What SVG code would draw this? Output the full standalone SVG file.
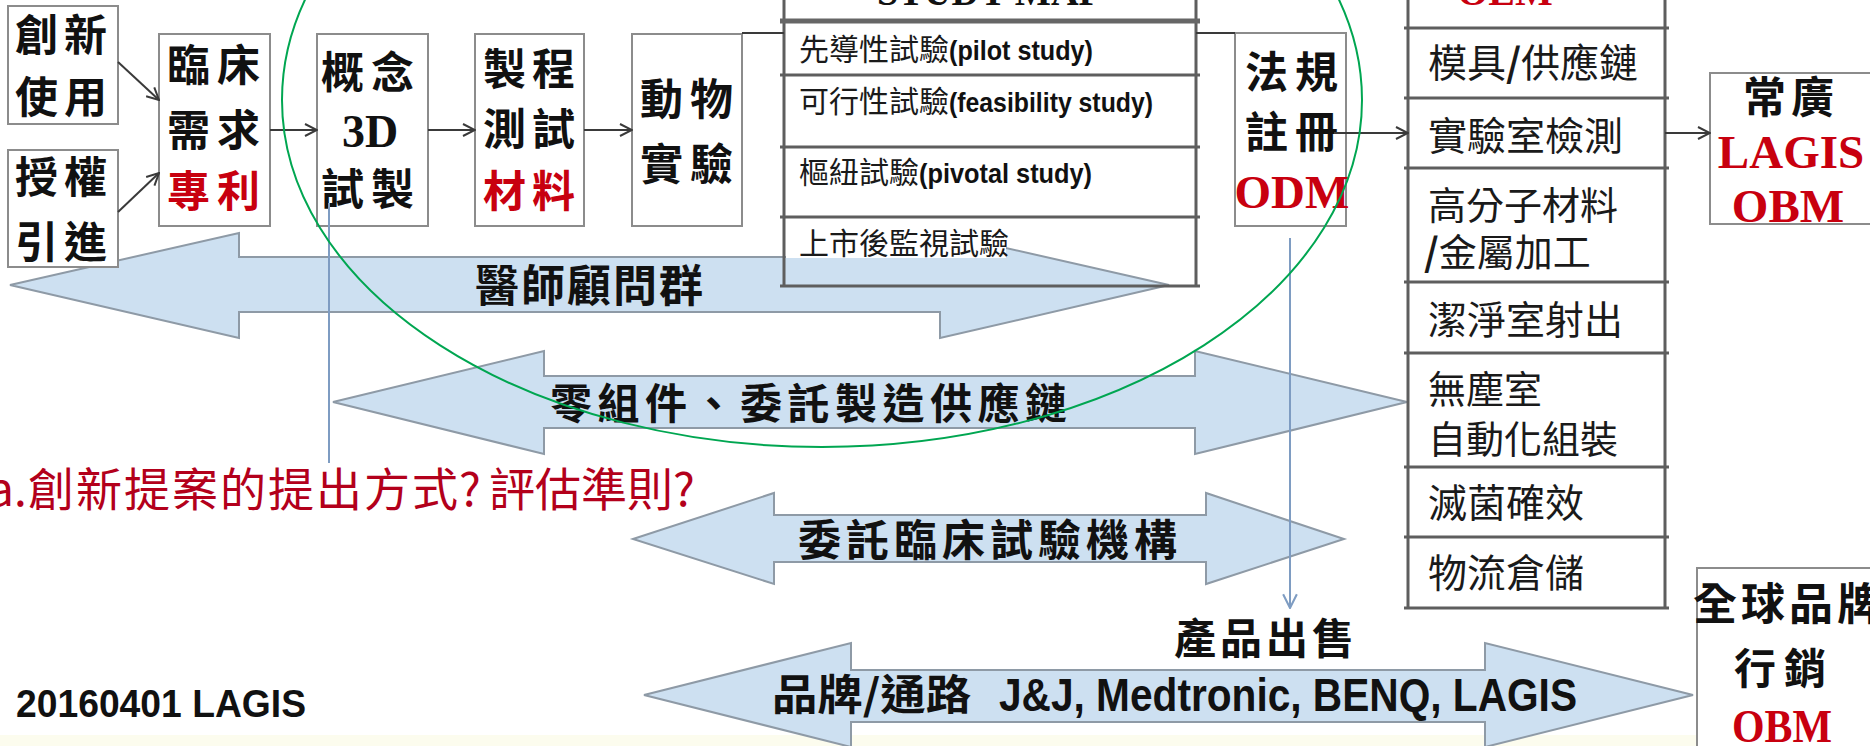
<svg xmlns="http://www.w3.org/2000/svg" width="1870" height="746" viewBox="0 0 1870 746">
<defs>
<style>
.box{fill:#fff;stroke:#8c8c8c;stroke-width:2}
.cjkb{font-family:"Noto Sans CJK TC","Noto Sans CJK SC",sans-serif;font-weight:700;fill:#111}
.cjk{font-family:"Noto Sans CJK TC","Noto Sans CJK SC",sans-serif;font-weight:400;fill:#1a1a1a}
.red{fill:#c8000f}
.q{fill:#b3001b}
.ser{font-family:"Liberation Serif",serif;font-weight:700}
.lat{font-family:"Liberation Sans",sans-serif;font-weight:700;fill:#111}
.barrow{fill:#cde0f1;stroke:#8e9aa6;stroke-width:2}
.grid{stroke:#5e5e5e;stroke-width:3;fill:none}
.conn{stroke:#3a3a3a;stroke-width:2;fill:none}
.vconn{stroke:#7e9cc2;stroke-width:2;fill:none}
</style>
<marker id="ah" viewBox="0 0 14 14" refX="13" refY="7" markerWidth="14" markerHeight="14" markerUnits="userSpaceOnUse" orient="auto"><path d="M1,1 L13,7 L1,13" fill="none" stroke="#3a3a3a" stroke-width="2"/></marker>
<marker id="ahb" viewBox="0 0 14 14" refX="13" refY="7" markerWidth="16" markerHeight="16" markerUnits="userSpaceOnUse" orient="auto"><path d="M1,1 L13,7 L1,13" fill="none" stroke="#7e9cc2" stroke-width="1.8"/></marker>
</defs>
<rect x="0" y="0" width="1870" height="746" fill="#fff"/>
<rect x="0" y="735" width="1870" height="11" fill="#fcfcee"/>

<g id="arrow-doctors">
<polygon class="barrow" points="10,285 239,233 239,257 940,257 940,233 1169,285 940,338 940,312 239,312 239,338"/>
<text class="cjkb" font-size="44" y="302" x="475 521 567 613 659">醫師顧問群</text>
</g>

<g id="arrow-parts">
<polygon class="barrow" points="333,402 544,351 544,376 1195,376 1195,351 1407,402 1195,454 1195,428 544,428 544,454"/>
<text class="cjkb" font-size="42" y="419" x="550 597.5 645 692.5 740 787.5 835 882.5 930 977.5 1025">零組件、委託製造供應鏈</text>
</g>

<g id="arrow-cro">
<polygon class="barrow" points="633,539 774,493 774,515 1206,515 1206,493 1344,539 1206,584 1206,562 774,562 774,584"/>
<text class="cjkb" font-size="43" y="556" x="798 846 894 942 990 1038 1086 1134">委託臨床試驗機構</text>
</g>

<g id="arrow-brand">
<polygon class="barrow" points="644,695 851,643 851,670 1485,670 1485,643 1693,695 1485,747 1485,722 851,722 851,747"/>
<text class="cjkb" font-size="42" y="710" x="772" textLength="199" lengthAdjust="spacingAndGlyphs">品牌/通路</text>
<text class="lat" font-size="46" y="711" x="999" textLength="578" lengthAdjust="spacingAndGlyphs">J&amp;J, Medtronic, BENQ, LAGIS</text>
</g>

<g id="study-table">
<rect x="784" y="-5" width="412" height="222" fill="#fff"/>
<rect x="786" y="219" width="220" height="39" fill="#fff"/>
<text class="ser" font-size="40" x="877" y="5" fill="#111" textLength="225" lengthAdjust="spacingAndGlyphs">STUDY MAP</text>
<line class="grid" x1="784" y1="-5" x2="784" y2="287"/>
<line class="grid" x1="1196" y1="-5" x2="1196" y2="287"/>
<line x1="780" y1="21" x2="1200" y2="21" stroke="#666" stroke-width="5"/>
<line class="grid" x1="780" y1="75" x2="1200" y2="75"/>
<line class="grid" x1="780" y1="147" x2="1200" y2="147"/>
<line class="grid" x1="780" y1="217" x2="1200" y2="217"/>
<line class="grid" x1="780" y1="286" x2="1200" y2="286"/>
<text class="cjk" font-size="30" x="799" y="60">先導性試驗</text>
<text class="lat" font-size="28" x="949" y="60" textLength="144" lengthAdjust="spacingAndGlyphs">(pilot study)</text>
<text class="cjk" font-size="30" x="799" y="112">可行性試驗</text>
<text class="lat" font-size="28" x="949" y="112" textLength="204" lengthAdjust="spacingAndGlyphs">(feasibility study)</text>
<text class="cjk" font-size="30" x="799" y="183">樞紐試驗</text>
<text class="lat" font-size="28" x="919" y="183" textLength="173" lengthAdjust="spacingAndGlyphs">(pivotal study)</text>
<text class="cjk" font-size="30" x="799" y="254">上市後監視試驗</text>
</g>

<g id="node-innovate">
<rect class="box" x="8" y="6" width="110" height="118"/>
<text class="cjkb" font-size="43" x="15 64" y="51">創新</text>
<text class="cjkb" font-size="43" x="15 64" y="113">使用</text>
</g>
<g id="node-license">
<rect class="box" x="8" y="150" width="110" height="117"/>
<text class="cjkb" font-size="43" x="15 64" y="193">授權</text>
<text class="cjkb" font-size="43" x="15 64" y="258">引進</text>
</g>
<g id="node-clinical-need">
<rect class="box" x="159" y="34" width="111" height="192"/>
<text class="cjkb" font-size="43" x="167 217" y="81">臨床</text>
<text class="cjkb" font-size="43" x="167 217" y="146">需求</text>
<text class="cjkb red" font-size="43" x="167 217" y="207">專利</text>
</g>
<g id="node-concept">
<rect class="box" x="317" y="34" width="111" height="192"/>
<text class="cjkb" font-size="43" x="321 371" y="88">概念</text>
<text font-family="Liberation Serif, serif" font-weight="700" font-size="46" x="370" y="147" text-anchor="middle" fill="#111">3D</text>
<text class="cjkb" font-size="43" x="321 371" y="205">試製</text>
</g>
<g id="node-process">
<rect class="box" x="475" y="34" width="109" height="192"/>
<text class="cjkb" font-size="43" x="483 532" y="85">製程</text>
<text class="cjkb" font-size="43" x="483 532" y="145">測試</text>
<text class="cjkb red" font-size="43" x="483 532" y="207">材料</text>
</g>
<g id="node-animal">
<rect class="box" x="632" y="34" width="110" height="192"/>
<text class="cjkb" font-size="43" x="640 690" y="115">動物</text>
<text class="cjkb" font-size="43" x="640 690" y="180">實驗</text>
</g>
<g id="node-regulatory">
<rect class="box" x="1235" y="33" width="111" height="193"/>
<text class="cjkb" font-size="43" x="1245 1295" y="88">法規</text>
<text class="cjkb" font-size="43" x="1245 1295" y="148">註冊</text>
<text class="ser red" font-size="47" x="1292" y="208" text-anchor="middle">ODM</text>
</g>

<g id="supply-column">
<rect x="1408" y="-5" width="257" height="613" fill="#fff"/>
<text class="ser red" font-size="40" x="1505" y="5" text-anchor="middle">OEM</text>
<line class="grid" x1="1408" y1="-5" x2="1408" y2="609"/>
<line class="grid" x1="1665" y1="-5" x2="1665" y2="609"/>
<line class="grid" x1="1404" y1="28" x2="1669" y2="28"/>
<line class="grid" x1="1404" y1="98" x2="1669" y2="98"/>
<line class="grid" x1="1404" y1="168" x2="1669" y2="168"/>
<line class="grid" x1="1404" y1="282" x2="1669" y2="282"/>
<line class="grid" x1="1404" y1="353" x2="1669" y2="353"/>
<line class="grid" x1="1404" y1="467" x2="1669" y2="467"/>
<line class="grid" x1="1404" y1="537" x2="1669" y2="537"/>
<line class="grid" x1="1404" y1="608" x2="1669" y2="608"/>
<text class="cjk" font-size="39" x="1428" y="77">模具<tspan font-weight="700">/</tspan>供應鏈</text>
<text class="cjk" font-size="39" x="1428" y="150">實驗室檢測</text>
<text class="cjk" font-size="38" x="1428" y="219">高分子材料</text>
<text class="cjk" font-size="38" x="1424" y="266"><tspan font-weight="700">/</tspan>金屬加工</text>
<text class="cjk" font-size="39" x="1428" y="334">潔淨室射出</text>
<text class="cjk" font-size="38" x="1428" y="403">無塵室</text>
<text class="cjk" font-size="38" x="1428" y="453">自動化組裝</text>
<text class="cjk" font-size="39" x="1428" y="517">滅菌確效</text>
<text class="cjk" font-size="39" x="1428" y="587">物流倉儲</text>
</g>

<g id="node-lagis">
<rect class="box" x="1710" y="73" width="175" height="151"/>
<text class="cjkb" font-size="43" x="1743 1791" y="113">常廣</text>
<text class="ser red" font-size="47" x="1791" y="168" text-anchor="middle">LAGIS</text>
<text class="ser red" font-size="47" x="1788" y="222" text-anchor="middle">OBM</text>
</g>

<g id="node-global">
<rect class="box" x="1697" y="568" width="190" height="200"/>
<text class="cjkb" font-size="44" x="1693 1741 1789 1837" y="620">全球品牌</text>
<text class="cjkb" font-size="42" x="1734 1784" y="684">行銷</text>
<text class="ser red" font-size="46" x="1732" y="742" textLength="100" lengthAdjust="spacingAndGlyphs">OBM</text>
</g>

<g id="label-sales">
<text class="cjkb" font-size="42" x="1174 1220 1266 1312" y="654">產品出售</text>
</g>

<g id="connectors">
<line class="conn" x1="118" y1="62" x2="159" y2="100" marker-end="url(#ah)"/>
<line class="conn" x1="118" y1="212" x2="159" y2="173" marker-end="url(#ah)"/>
<line class="conn" x1="270" y1="130" x2="317" y2="130" marker-end="url(#ah)"/>
<line class="conn" x1="428" y1="130" x2="475" y2="130" marker-end="url(#ah)"/>
<line class="conn" x1="584" y1="130" x2="632" y2="130" marker-end="url(#ah)"/>
<line class="conn" x1="742" y1="33" x2="784" y2="33"/>
<line class="conn" x1="1196" y1="33" x2="1235" y2="33"/>
<line class="conn" x1="1334" y1="133" x2="1408" y2="133" marker-end="url(#ah)"/>
<line class="conn" x1="1665" y1="133" x2="1710" y2="133" marker-end="url(#ah)"/>
<line class="vconn" x1="329" y1="203" x2="329" y2="463"/>
<line class="vconn" x1="1290" y1="238" x2="1290" y2="608" marker-end="url(#ahb)"/>
</g>

<g id="question">
<text class="cjk q" font-size="46" y="506"><tspan x="-12">a.</tspan><tspan x="28" letter-spacing="2">創新提案的提出方式</tspan><tspan x="459">?</tspan><tspan x="489">評估準則?</tspan></text>
</g>

<g id="footer">
<text class="lat" font-size="38" x="16" y="717" textLength="290" lengthAdjust="spacingAndGlyphs">20160401 LAGIS</text>
</g>

<ellipse cx="822" cy="100" rx="540" ry="347" fill="none" stroke="#00a651" stroke-width="2"/>
</svg>
